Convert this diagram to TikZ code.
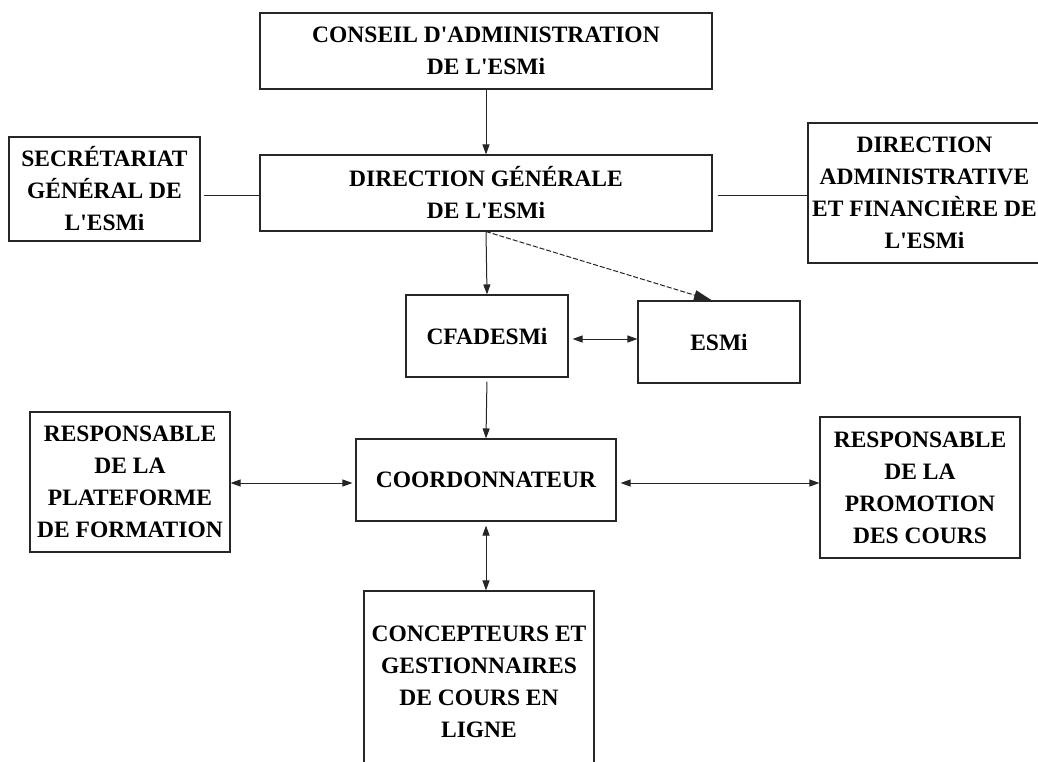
\documentclass[tikz,border=0pt]{standalone}
\usepackage{fontspec}
\newfontfamily\boitefont{Liberation Serif}
\usetikzlibrary{arrows.meta}
\tikzstyle{boite} = [rectangle, draw=black!85, line width=1.1pt, inner sep=0pt, align=center, font=\boitefont\bfseries\fontsize{23.5}{32}\selectfont]
\tikzstyle{lien} = [draw=black!85, line width=1pt]
\tikzstyle{fleche} = [lien, -{Triangle[length=10pt,width=7pt]}]
\tikzstyle{flechedouble} = [lien, {Triangle[length=10pt,width=7pt]}-{Triangle[length=10pt,width=7pt]}]

\begin{document}
\begin{tikzpicture}[x=1pt,y=-1pt]

        \useasboundingbox (0,0) rectangle (1038,761);

        \node (CA) [boite, minimum width=452pt, minimum height=76pt] at (486,51) {CONSEIL D'ADMINISTRATION\\DE L'ESMi};
        \node (DG) [boite, minimum width=452pt, minimum height=76pt] at (486,193) {DIRECTION GÉNÉRALE\\DE L'ESMi};
        \node (SG) [boite, minimum width=191pt, minimum height=104pt] at (104.5,189) {SECRÉTARIAT\\GÉNÉRAL DE\\L'ESMi};
        \node (DAF) [boite, minimum width=233pt, minimum height=140pt] at (924.5,193) {DIRECTION\\ADMINISTRATIVE\\ET FINANCIÈRE DE\\L'ESMi};

        \node (CF) [boite, minimum width=162pt, minimum height=82pt] at (487,336) {CFADESMi};
        \node (ES) [boite, minimum width=162pt, minimum height=82pt] at (719,342) {ESMi};

        \node (CO) [boite, minimum width=260pt, minimum height=82pt] at (486,480) {COORDONNATEUR};
        \node (RP) [boite, minimum width=200pt, minimum height=140pt] at (130,482) {RESPONSABLE\\DE LA\\PLATEFORME\\DE FORMATION};
        \node (RC) [boite, minimum width=200pt, minimum height=141pt] at (920,487.5) {RESPONSABLE\\DE LA\\PROMOTION\\DES COURS};
        \node (CG) [boite, minimum width=230pt, minimum height=182pt] at (479,682) {CONCEPTEURS ET\\GESTIONNAIRES\\DE COURS EN\\LIGNE};

        % liens
        \draw [fleche] (CA.south) -- (DG.north);
        \draw [lien, shorten <=3pt] (SG.east |- 0,195) -- (DG.west |- 0,195);
        \draw [lien, shorten <=5pt] (DG.east |- 0,195) -- (DAF.west |- 0,195);

        \draw [fleche] (DG.south) -- (CF.north);
        \draw [lien, dash pattern=on 5pt off 2pt, -{Triangle[length=18pt,width=10pt]}] (DG.south) -- ([xshift=-7pt]ES.north);
        \draw [flechedouble, shorten <=4pt] ([yshift=-3pt]CF.east) -- ([yshift=3pt]ES.west);

        \draw [fleche, shorten <=4pt] (CF.south) -- (CO.north);
        \draw [flechedouble, shorten <=3pt] ([yshift=-3pt]CO.west) -- ([yshift=-3pt]CO.west -| RP.east);
        \draw [flechedouble, shorten <=4pt] ([yshift=-3pt]CO.east) -- ([yshift=-3pt]CO.east -| RC.west);
        \draw [flechedouble, shorten <=4pt] (CO.south) -- (CO.south |- CG.north);

    \end{tikzpicture}
\end{document}
